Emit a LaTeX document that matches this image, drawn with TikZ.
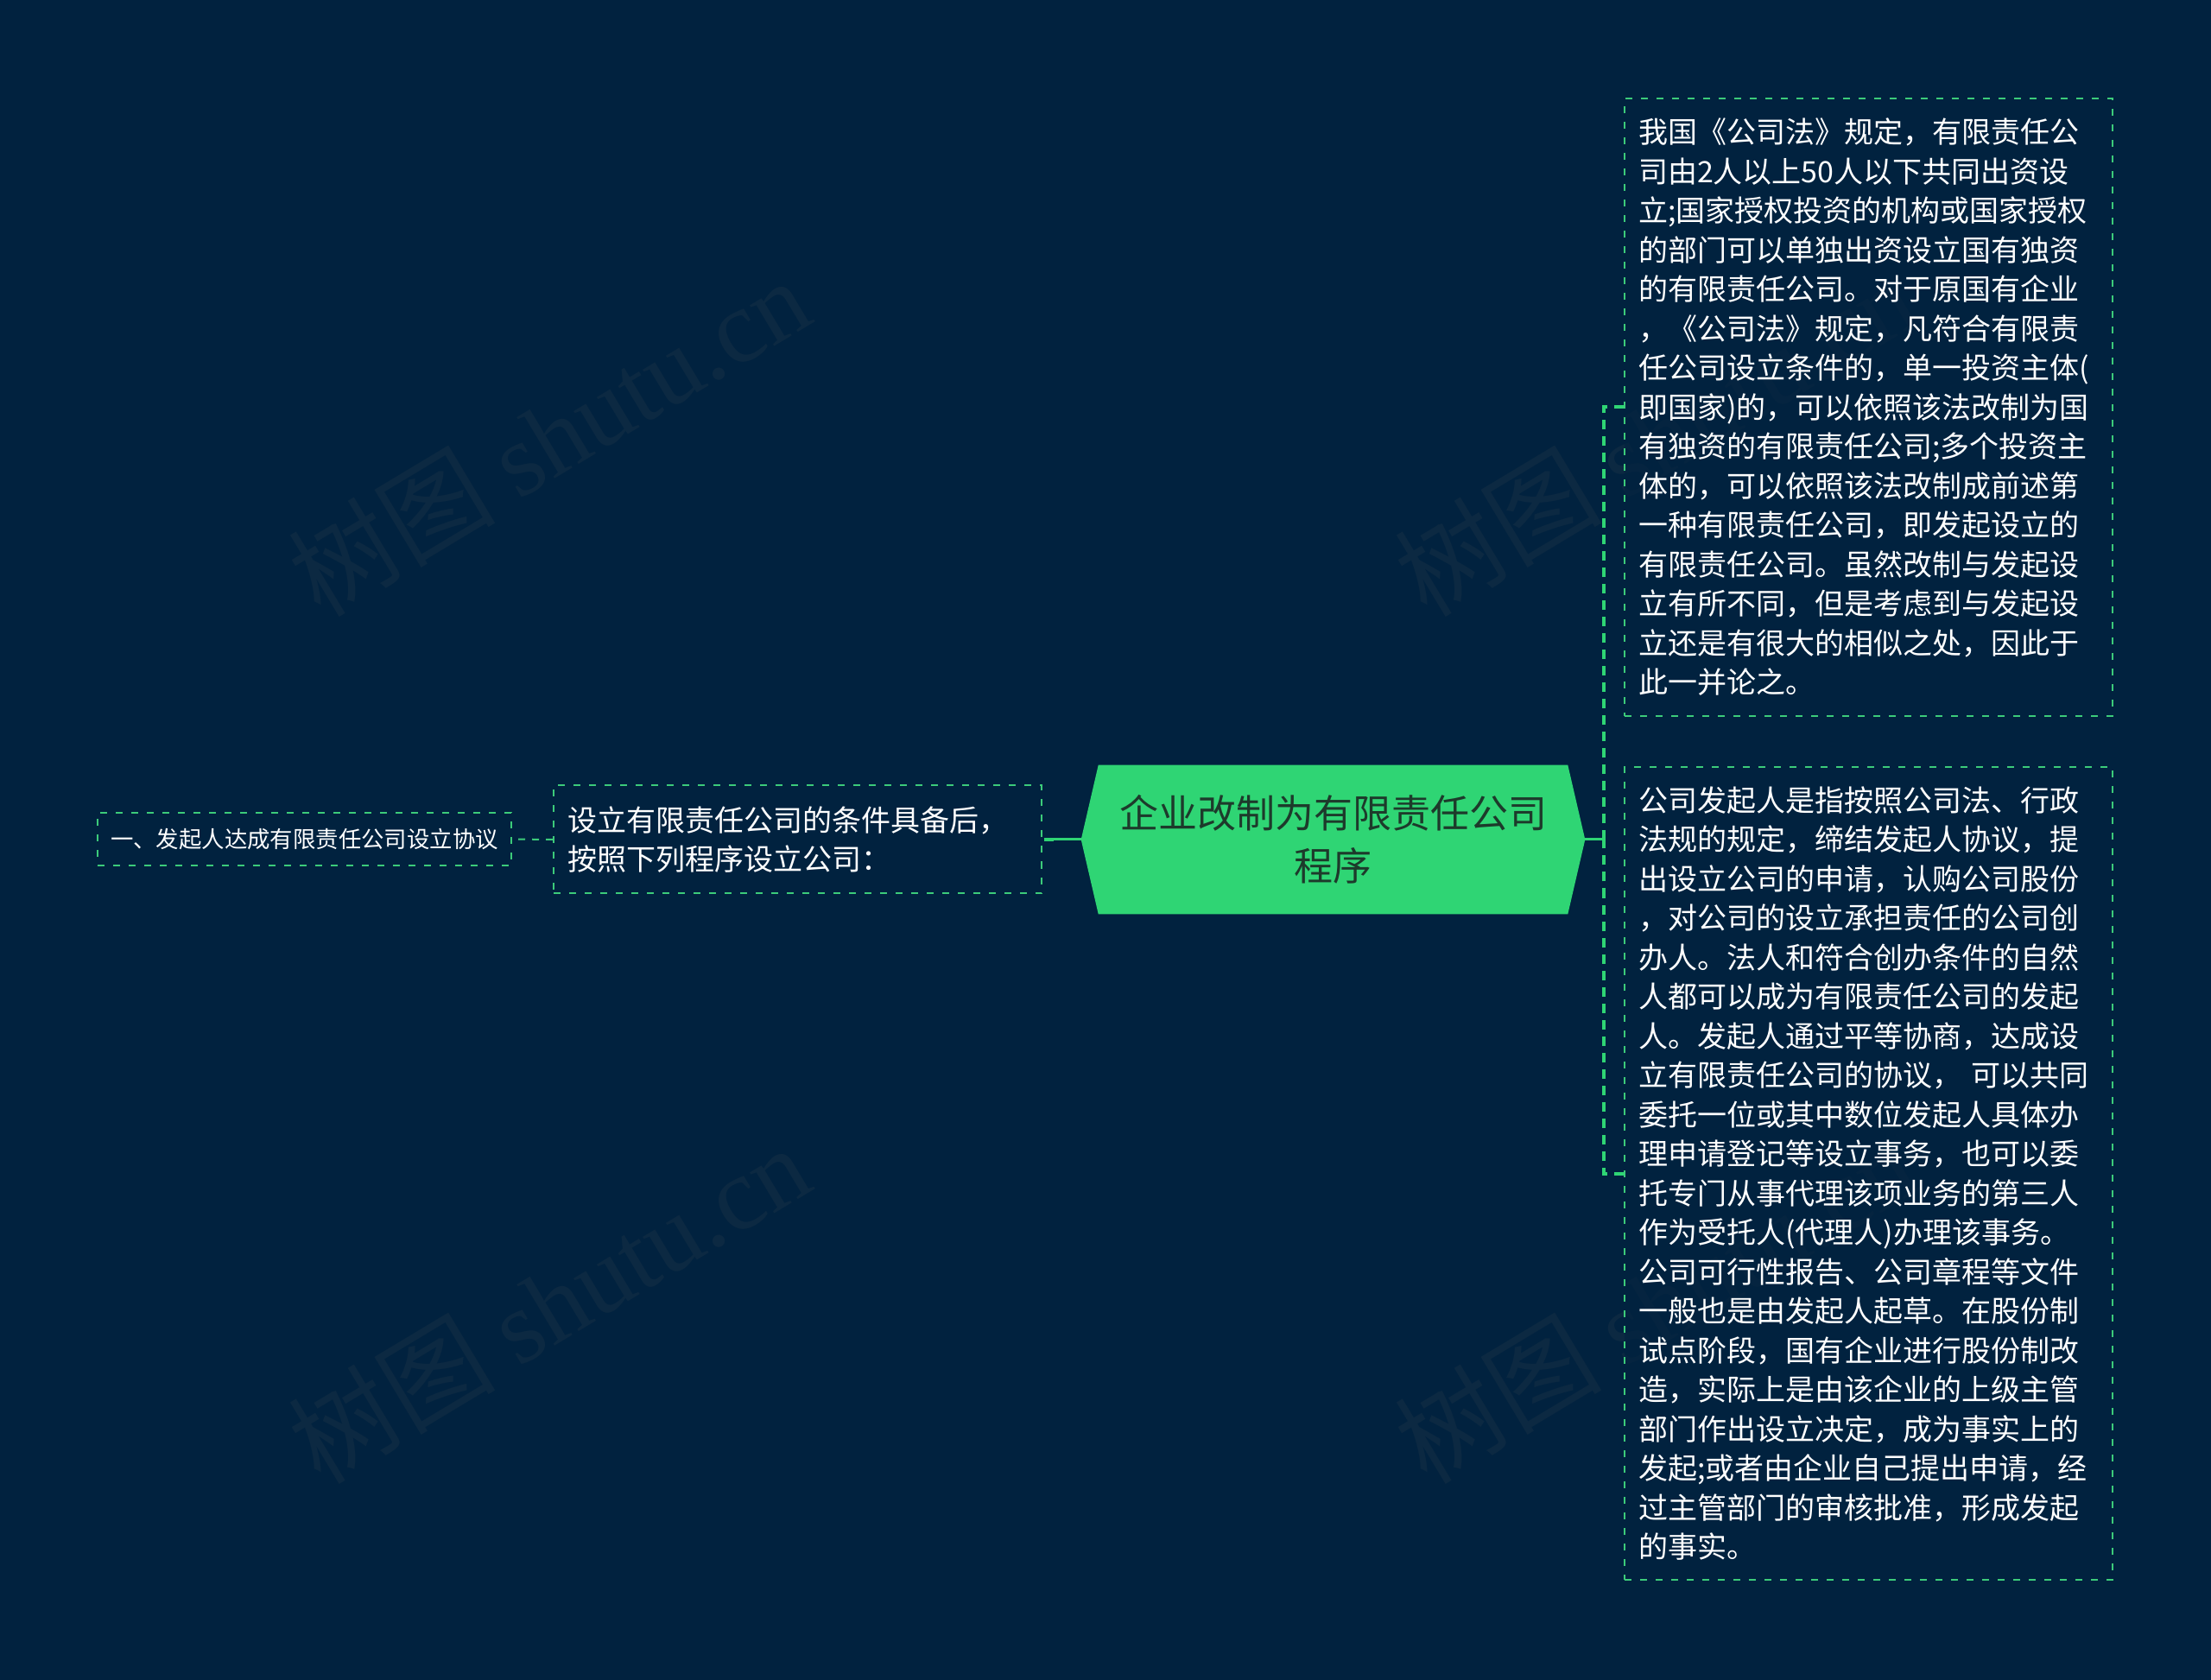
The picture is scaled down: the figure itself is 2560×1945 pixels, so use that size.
\documentclass[tikz,border=0pt]{standalone}
\usepackage{fontspec}
\setmainfont{Noto Sans CJK SC}
\newfontfamily\wmfont{Liberation Serif}
\usetikzlibrary{backgrounds}

\definecolor{bgnavy}{HTML}{01223F}
\definecolor{leafgreen}{HTML}{2FD574}
\definecolor{linegreen}{HTML}{3CCB7A}
\definecolor{rootink}{HTML}{1D3A2B}
\definecolor{wmink}{HTML}{0C2942}

\tikzset{
	leaf/.style={draw=linegreen, line width=0.5pt, dash pattern=on 2pt off 2.5pt, fill=bgnavy, fill opacity=0.6, text opacity=1, text=white, inner xsep=4pt, inner ysep=0pt, align=left, text width=133.25pt},
	tag/.style={draw=linegreen, line width=0.5pt, dash pattern=on 2pt off 2.5pt, fill=bgnavy, text=white, inner sep=0pt, minimum width=119.75pt, minimum height=15.25pt, font=\fontsize{6.6pt}{8pt}\selectfont},
	rootnode/.style={text=rootink, align=center, inner sep=0pt, minimum width=135.5pt, minimum height=42.75pt, font=\fontsize{11.25pt}{15.25pt}\selectfont},
	joint/.style={leafgreen, line width=0.75pt},
	bracket/.style={leafgreen, line width=1pt, dash pattern=on 2.75pt off 2pt},
	twig/.style={linegreen, line width=0.5pt, dash pattern=on 2pt off 2pt},
	watermark/.style={text=wmink, rotate=31, inner sep=0pt, font=\fontsize{30pt}{30pt}\selectfont},
}

\begin{document}
\begin{tikzpicture}[x=0.25pt,y=-0.25pt]
	\useasboundingbox (0,0) rectangle (2560,1945);

	% root and its branches
	\node[rootnode] (ctr) at (1543.5,972) {企业改制为有限责任公司\\程序};

	\node[leaf, font=\fontsize{8.5pt}{11.375pt}\selectfont, minimum height=178.75pt] (law) at (2163.5,471.5) {%
		我国《公司法》规定，有限责任公\\
		司由2人以上50人以下共同出资设\\
		立;国家授权投资的机构或国家授权\\
		的部门可以单独出资设立国有独资\\
		的有限责任公司。对于原国有企业\\
		，《公司法》规定，凡符合有限责\\
		任公司设立条件的，单一投资主体(\\
		即国家)的，可以依照该法改制为国\\
		有独资的有限责任公司;多个投资主\\
		体的，可以依照该法改制成前述第\\
		一种有限责任公司，即发起设立的\\
		有限责任公司。虽然改制与发起设\\
		立有所不同，但是考虑到与发起设\\
		立还是有很大的相似之处，因此于\\
		此一并论之。};

	\node[leaf, font=\fontsize{8.5pt}{11.375pt}\selectfont, minimum height=235.25pt] (promoter) at (2163.5,1358.5) {%
		公司发起人是指按照公司法、行政\\
		法规的规定，缔结发起人协议，提\\
		出设立公司的申请，认购公司股份\\
		，对公司的设立承担责任的公司创\\
		办人。法人和符合创办条件的自然\\
		人都可以成为有限责任公司的发起\\
		人。发起人通过平等协商，达成设\\
		立有限责任公司的协议， 可以共同\\
		委托一位或其中数位发起人具体办\\
		理申请登记等设立事务，也可以委\\
		托专门从事代理该项业务的第三人\\
		作为受托人(代理人)办理该事务。\\
		公司可行性报告、公司章程等文件\\
		一般也是由发起人起草。在股份制\\
		试点阶段，国有企业进行股份制改\\
		造，实际上是由该企业的上级主管\\
		部门作出设立决定，成为事实上的\\
		发起;或者由企业自己提出申请，经\\
		过主管部门的审核批准，形成发起\\
		的事实。};

	\node[leaf, font=\fontsize{8.5pt}{11.25pt}\selectfont, minimum height=31.25pt] (steps) at (923.5,972) {设立有限责任公司的条件具备后，\\按照下列程序设立公司：};

	\node[tag] (agree) at (352.5,971.5) {一、发起人达成有限责任公司设立协议};

	% connectors
	\coordinate (rj) at (1857,972);
	\coordinate (lj) at (1220,972);
	\draw[joint] ([xshift=5pt]ctr.east) -- (rj);
	\draw[bracket] (law.west) -| (rj);
	\draw[bracket] (promoter.west) -| (rj);
	\draw[joint] ([xshift=-5pt]ctr.west) -- (lj);
	\draw[bracket] (lj) -- (steps.east);
	\draw[twig] (steps.west) -- (agree.east);

	\begin{scope}[on background layer]
		\fill[bgnavy] (0,0) rectangle (2560,1945);
		\node[watermark] (wm1) at (635,505) {树图 {\wmfont shutu.cn}};
		\node[watermark] (wm2) at (635,1509) {树图 {\wmfont shutu.cn}};
		\node[watermark] (wm3) at (1916,505) {树图 {\wmfont shutu.cn}};
		\node[watermark] (wm4) at (1916,1509) {树图 {\wmfont shutu.cn}};
		\fill[leafgreen] ([xshift=-5pt]ctr.west) -- (ctr.north west) -- (ctr.north east)
			-- ([xshift=5pt]ctr.east) -- (ctr.south east) -- (ctr.south west) -- cycle;
	\end{scope}
\end{tikzpicture}
\end{document}
